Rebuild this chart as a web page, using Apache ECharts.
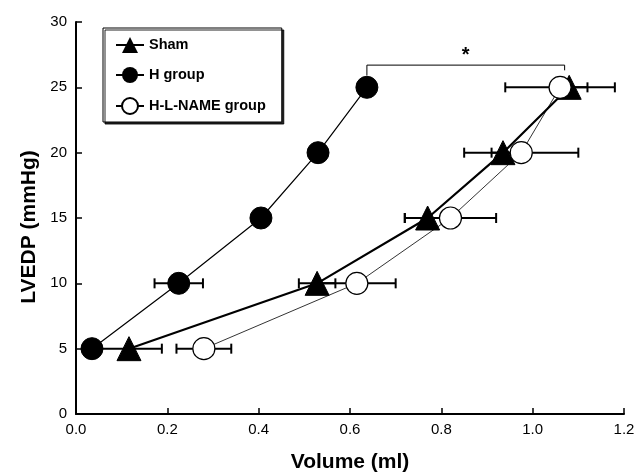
<!DOCTYPE html>
<html><head><meta charset="utf-8">
<script src="https://cdn.jsdelivr.net/npm/echarts@6/dist/echarts.min.js"></script>
<style>html,body{margin:0;padding:0;background:#fff}#c{width:636px;height:473px}</style>
</head><body><div id="c"></div>
<script>
const yLevels = [5, 10, 15, 20, 25];
const shamX = [0.116, 0.528, 0.77, 0.935, 1.08];
const shamErr = [0.072, 0.04, 0.05, 0.025, 0.04];
const hX = [0.035, 0.225, 0.405, 0.53, 0.637];
const hErr = [0, 0.053, 0.015, 0, 0];
const hlX = [0.28, 0.615, 0.82, 0.975, 1.06];
const hlErr = [0.06, 0.085, 0.1, 0.125, 0.12];
const seriesNames = ['Sham', 'H group', 'H-L-NAME group'];
const xTicks = ['0.0','0.2','0.4','0.6','0.8','1.0','1.2'];
// significance bracket: [xStart, yStartBottom, xEnd, yEndBottom, yTop]
const bracket = [0.637, 25.9, 1.07, 26.3, 26.7];
const bracketLabel = '*';

const FONT = 'Liberation Sans, Arial, sans-serif';
function pts(xs){ return xs.map((x,i)=>[x, yLevels[i]]); }
function errData(xs, es){ return xs.map((x,i)=>[x, yLevels[i], es[i]]); }

function errRender(params, api){
  const x = api.value(0), y = api.value(1), e = api.value(2);
  if (!e) return null;
  const a = api.coord([x - e, y]), b = api.coord([x + e, y]);
  const st = {stroke:'#000', lineWidth:2};
  return {type:'group', children:[
    {type:'line', shape:{x1:a[0],y1:a[1],x2:b[0],y2:b[1]}, style:st},
    {type:'line', shape:{x1:a[0],y1:a[1]-5,x2:a[0],y2:a[1]+5}, style:st},
    {type:'line', shape:{x1:b[0],y1:b[1]-5,x2:b[0],y2:b[1]+5}, style:st}
  ]};
}

const chart = echarts.init(document.getElementById('c'), null, {renderer:'canvas'});
chart.setOption({
  animation:false,
  backgroundColor:'#fff',
  grid:{left:76, right:12, top:22, bottom:59, containLabel:false, outerBoundsMode:'none'},
  legend:{
    data:seriesNames,
    orient:'vertical', left:103, top:28,
    padding:[9,16,7,12], itemGap:14, itemWidth:28, itemHeight:20,
    borderColor:'#000', borderWidth:1, backgroundColor:'#fff',
    shadowColor:'rgba(0,0,0,0.85)', shadowOffsetX:2, shadowOffsetY:2, shadowBlur:0,
    textStyle:{fontFamily:FONT, fontSize:14.5, fontWeight:'bold', color:'#000'}
  },
  xAxis:{
    type:'value', min:0, max:1.2, interval:0.2,
    name:'Volume (ml)', nameLocation:'middle', nameGap:38,
    nameTextStyle:{fontFamily:FONT, fontSize:21, fontWeight:'bold', color:'#000'},
    axisLine:{lineStyle:{color:'#000', width:2}},
    axisTick:{inside:true, length:6, lineStyle:{color:'#000', width:1.5}},
    axisLabel:{fontFamily:FONT, fontSize:15, color:'#000', margin:8,
      formatter:(v)=>xTicks[Math.round(v/0.2)]},
    splitLine:{show:false}
  },
  yAxis:{
    type:'value', min:0, max:30, interval:5,
    name:'LVEDP (mmHg)', nameLocation:'middle', nameGap:36,
    nameTextStyle:{fontFamily:FONT, fontSize:21, fontWeight:'bold', color:'#000', padding:[0,18,0,0]},
    axisLine:{show:true, lineStyle:{color:'#000', width:2}},
    axisTick:{show:true, inside:true, length:6, lineStyle:{color:'#000', width:1.5}},
    axisLabel:{fontFamily:FONT, fontSize:15, color:'#000', margin:9},
    splitLine:{show:false}
  },
  series:[
    {type:'custom', name:'errH', renderItem:errRender, data:errData(hX,hErr), z:1, silent:true},
    {type:'custom', name:'errSham', renderItem:errRender, data:errData(shamX,shamErr), z:1, silent:true},
    {type:'line', name:'H group', data:pts(hX), symbol:'circle', symbolSize:22,
      lineStyle:{color:'#000', width:1.2}, itemStyle:{color:'#000', borderColor:'#000'}, z:3},
    {type:'line', name:'Sham', data:pts(shamX), symbol:'triangle', symbolSize:24,
      lineStyle:{color:'#000', width:2.2}, itemStyle:{color:'#000', borderColor:'#000'}, z:3},
    {type:'custom', name:'errHL', renderItem:errRender, data:errData(hlX,hlErr), z:4, silent:true},
    {type:'line', name:'H-L-NAME group', data:pts(hlX), symbol:'circle', symbolSize:22,
      lineStyle:{color:'#000', width:0.8}, itemStyle:{color:'#fff', borderColor:'#000', borderWidth:1.2}, z:5},
    {type:'custom', name:'bracket', z:6, silent:true, data:[bracket],
      renderItem:function(params, api){
        const p1 = api.coord([api.value(0), api.value(1)]);
        const p2 = api.coord([api.value(0), api.value(4)]);
        const p3 = api.coord([api.value(2), api.value(4)]);
        const p4 = api.coord([api.value(2), api.value(3)]);
        return {type:'group', children:[
          {type:'polyline', shape:{points:[p1,p2,p3,p4]}, style:{stroke:'#000', lineWidth:1, fill:null}},
          {type:'text', style:{text:bracketLabel, x:(p2[0]+p3[0])/2, y:p2[1],
            textAlign:'center', textVerticalAlign:'bottom', font:'bold 20px '+FONT, fill:'#000'}}
        ]};
      }}
  ]
});
</script></body></html>
